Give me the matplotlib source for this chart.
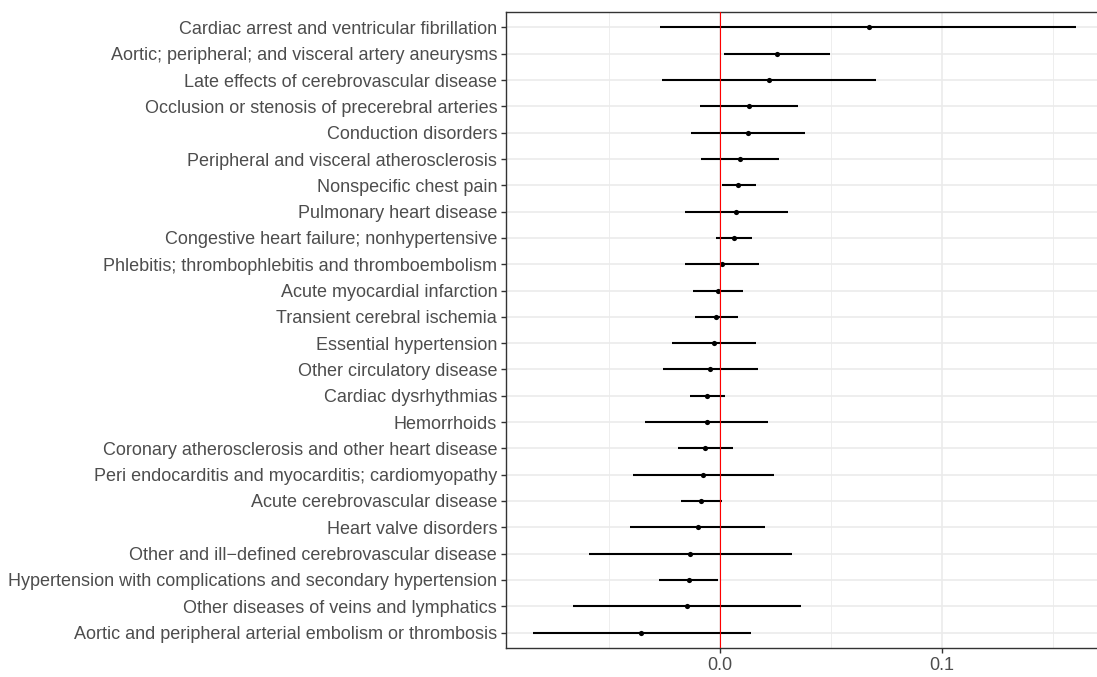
import numpy as np
import matplotlib
matplotlib.use('Agg')
import matplotlib.pyplot as plt

# categories from top to bottom
labels = [
    'Cardiac arrest and ventricular fibrillation',
    'Aortic; peripheral; and visceral artery aneurysms',
    'Late effects of cerebrovascular disease',
    'Occlusion or stenosis of precerebral arteries',
    'Conduction disorders',
    'Peripheral and visceral atherosclerosis',
    'Nonspecific chest pain',
    'Pulmonary heart disease',
    'Congestive heart failure; nonhypertensive',
    'Phlebitis; thrombophlebitis and thromboembolism',
    'Acute myocardial infarction',
    'Transient cerebral ischemia',
    'Essential hypertension',
    'Other circulatory disease',
    'Cardiac dysrhythmias',
    'Hemorrhoids',
    'Coronary atherosclerosis and other heart disease',
    'Peri endocarditis and myocarditis; cardiomyopathy',
    'Acute cerebrovascular disease',
    'Heart valve disorders',
    'Other and ill\u2212defined cerebrovascular disease',
    'Hypertension with complications and secondary hypertension',
    'Other diseases of veins and lymphatics',
    'Aortic and peripheral arterial embolism or thrombosis',
]
estimate = [0.0670, 0.0255, 0.0222, 0.0131, 0.0125, 0.0088, 0.0083, 0.0073,
            0.0064, 0.0008, -0.0010, -0.0016, -0.0029, -0.0044, -0.0058, -0.0061,
            -0.0067, -0.0076, -0.0085, -0.0101, -0.0134, -0.0141, -0.0149, -0.0354]
lower = [-0.0270, 0.0019, -0.0260, -0.0090, -0.0130, -0.0086, 0.0007, -0.0160,
         -0.0017, -0.0160, -0.0124, -0.0113, -0.0218, -0.0258, -0.0137, -0.0336,
         -0.0190, -0.0391, -0.0175, -0.0406, -0.0592, -0.0273, -0.0662, -0.0844]
upper = [0.1605, 0.0494, 0.0704, 0.0353, 0.0384, 0.0264, 0.0164, 0.0307,
         0.0146, 0.0177, 0.0104, 0.0083, 0.0160, 0.0173, 0.0023, 0.0217,
         0.0059, 0.0241, 0.0007, 0.0202, 0.0324, -0.0007, 0.0365, 0.0141]

n = len(labels)
ypos = np.arange(n, 0, -1)

W, H = 1097, 677
fig = plt.figure(figsize=(W / 100, H / 100), dpi=100)

# ggplot-like expansion of the x range
lo, hi = min(lower), max(upper)
pad = 0.05 * (hi - lo)
xlim = (lo - pad, hi + pad)
px_per_unit = 2220
left_px, top_px, bottom_px = 505.5, 11.7, 648.3
width_px = (xlim[1] - xlim[0]) * px_per_unit
ax = fig.add_axes([left_px / W, 1 - bottom_px / H, width_px / W, (bottom_px - top_px) / H])

ax.set_xlim(*xlim)
ax.set_ylim(0.4, n + 0.6)

grey_grid = '#EBEBEB'
for x in [-0.05, 0.05, 0.15]:
    ax.axvline(x, color=grey_grid, lw=0.6, zorder=0)
for x in [0.0, 0.1]:
    ax.axvline(x, color=grey_grid, lw=1.2, zorder=0)
for y in ypos:
    ax.axhline(y, color=grey_grid, lw=1.2, zorder=0)

ax.hlines(ypos, lower, upper, color='black', lw=1.5, zorder=2)
ax.scatter(estimate, ypos, s=14, color='black', zorder=3, linewidths=0)
ax.axvline(0, color='red', lw=0.8, zorder=4)

ax.set_xticks([0.0, 0.1])
ax.set_xticklabels(['0.0', '0.1'])
ax.set_yticks(ypos)
ax.set_yticklabels(labels)

for s in ax.spines.values():
    s.set_color('#333333')
    s.set_linewidth(1.0)
ax.tick_params(axis='both', colors='#333333', length=3.5, width=1.0,
               labelcolor='#4D4D4D', labelsize=12.95, pad=2.5)
for t in ax.get_xticklabels() + ax.get_yticklabels():
    t.set_fontfamily('Liberation Sans')

fig.savefig('out.png', dpi=100)
